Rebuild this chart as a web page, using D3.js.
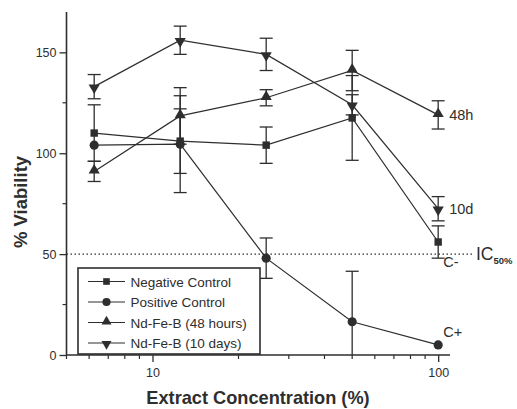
<!DOCTYPE html>
<html>
<head>
<meta charset="utf-8">
<script src="https://cdn.jsdelivr.net/npm/d3@7"></script>
<style>
  html, body { margin: 0; padding: 0; background: #fff; }
  svg { display: block; font-family: "Liberation Sans", Arial, sans-serif; }
</style>
</head>
<body>
<svg id="chart" width="517" height="409"></svg>
<script>
// ---- data ----
const concentrations = [6.25, 12.5, 25, 50, 100];
const seriesNames = ["Negative Control", "Positive Control", "Nd-Fe-B (48 hours)", "Nd-Fe-B (10 days)"];
const negControl    = [110, 106, 104, 117.5, 56];
const negControlErr = [14, 16, 9, 21, 8];
const posControl    = [104, 104.5, 48, 16.5, 5];
const posControlErr = [0, 24, 10, 25, 0];
const nd48h         = [91, 118.5, 127.5, 141, 119];
const nd48hErr      = [5, 14, 4, 10, 7];
const nd10d         = [133, 156, 149, 124, 72.5];
const nd10dErr      = [6, 7, 8, 5, 6];
const yTicks = [0, 50, 100, 150];
const yMinorTicks = [25, 75, 125];
const xTicks = [10, 100];
const xMinorTicks = [5, 6, 7, 8, 9, 20, 30, 40, 50, 60, 70, 80, 90];
const icThreshold = 50;
const endLabels = ["48h", "10d", "C-", "C+"];

const series = [
  { name: seriesNames[0], values: negControl, err: negControlErr, shape: d3.symbolSquare, size: 55, rot: 0 },
  { name: seriesNames[1], values: posControl, err: posControlErr, shape: d3.symbolCircle, size: 66, rot: 0 },
  { name: seriesNames[2], values: nd48h, err: nd48hErr, shape: d3.symbolTriangle, size: 54, rot: 0 },
  { name: seriesNames[3], values: nd10d, err: nd10dErr, shape: d3.symbolTriangle, size: 54, rot: 180 }
];

const ink = "#2e2e2e";
const svg = d3.select("#chart");

const x = d3.scaleLog().domain([5, 110]).range([66.5, 450]);
const y = d3.scaleLinear().domain([0, 170]).range([355, 12]);

// dotted IC50 line
svg.append("line")
  .attr("x1", x(5)).attr("x2", 473)
  .attr("y1", y(icThreshold)).attr("y2", y(icThreshold))
  .attr("stroke", ink).attr("stroke-width", 1.1)
  .attr("stroke-dasharray", "1.5,2.5");

// axes
const yAxis = d3.axisLeft(y).tickValues(yTicks).tickSize(7).tickPadding(3).tickFormat(d3.format("d"));
const gy = svg.append("g").attr("transform", `translate(${x(5)},0)`).call(yAxis);
gy.append("g").selectAll("line").data(yMinorTicks).join("line")
  .attr("x1", -4).attr("x2", 0).attr("y1", d => y(d)).attr("y2", d => y(d))
  .attr("stroke", ink).attr("stroke-width", 1.2);

const xAxis = d3.axisBottom(x).tickValues(xTicks).tickSize(7).tickPadding(6).tickFormat(d3.format("d"));
const gx = svg.append("g").attr("transform", `translate(0,${y(0)})`).call(xAxis);
gx.append("g").selectAll("line").data(xMinorTicks).join("line")
  .attr("x1", d => x(d)).attr("x2", d => x(d)).attr("y1", 0).attr("y2", 4)
  .attr("stroke", ink).attr("stroke-width", 1.2);

[gx, gy].forEach(g => {
  g.select(".domain").attr("stroke", ink).attr("stroke-width", 1.6);
  g.selectAll(".tick line").attr("stroke", ink).attr("stroke-width", 1.3);
  g.selectAll("text").attr("fill", ink).attr("font-size", 12.5)
    .attr("font-family", "'Liberation Sans', Arial, sans-serif");
});
gy.select(".domain").attr("d", `M0,${y(170)}V${y(0)}`);
gx.select(".domain").attr("d", `M${x(5)},0H${x(110)}`);

// error bars
const capW = 6.5;
series.forEach(s => {
  const g = svg.append("g");
  s.values.forEach((v, i) => {
    const e = s.err[i];
    if (!e) return;
    const cx = x(concentrations[i]);
    const hi = v + e, lo = Math.max(0, v - e);
    g.append("line").attr("x1", cx).attr("x2", cx).attr("y1", y(hi)).attr("y2", y(lo))
      .attr("stroke", ink).attr("stroke-width", 1.3);
    g.append("line").attr("x1", cx - capW).attr("x2", cx + capW).attr("y1", y(hi)).attr("y2", y(hi))
      .attr("stroke", ink).attr("stroke-width", 1.3);
    if (v - e >= 0)
      g.append("line").attr("x1", cx - capW).attr("x2", cx + capW).attr("y1", y(lo)).attr("y2", y(lo))
        .attr("stroke", ink).attr("stroke-width", 1.3);
  });
});

// lines
const lineGen = d3.line().x((d, i) => x(concentrations[i])).y(d => y(d));
series.forEach(s => {
  svg.append("path").attr("d", lineGen(s.values))
    .attr("fill", "none").attr("stroke", ink).attr("stroke-width", 1.2);
});

// markers
series.forEach(s => {
  svg.append("g").selectAll("path").data(s.values).join("path")
    .attr("d", d3.symbol().type(s.shape).size(s.size))
    .attr("transform", (d, i) => `translate(${x(concentrations[i])},${y(d) + (s.shape === d3.symbolTriangle ? (s.rot ? 1 : -1) : 0)}) rotate(${s.rot})`)
    .attr("fill", ink);
});

// end labels
const lastIdx = concentrations.length - 1;
const labelFont = "'Liberation Sans', Arial, sans-serif";
const endPos = [
  { t: endLabels[0], v: nd48h[lastIdx], dx: 11, dy: 5 },
  { t: endLabels[1], v: nd10d[lastIdx], dx: 11, dy: 5 },
  { t: endLabels[2], v: negControl[lastIdx], dx: 5, dy: 25 },
  { t: endLabels[3], v: posControl[lastIdx], dx: 5, dy: -8 }
];
endPos.forEach(p => {
  svg.append("text").attr("x", x(concentrations[lastIdx]) + p.dx).attr("y", y(p.v) + p.dy)
    .attr("font-size", 14.5).attr("fill", ink).attr("font-family", labelFont).text(p.t);
});

// IC50 label
const ic = svg.append("text").attr("x", 476).attr("y", y(icThreshold) + 6)
  .attr("font-family", labelFont).attr("fill", ink);
ic.append("tspan").attr("font-size", 17.5).text("IC");
ic.append("tspan").attr("font-size", 9.5).attr("font-weight", "bold").attr("dy", 4).text("50%");

// legend
const lg = svg.append("g");
lg.append("rect").attr("x", 78).attr("y", 268).attr("width", 182).attr("height", 86)
  .attr("fill", "#fff").attr("stroke", ink).attr("stroke-width", 1.6);
series.forEach((s, i) => {
  const ry = 281.5 + i * 20.5;
  lg.append("line").attr("x1", 88).attr("x2", 125).attr("y1", ry).attr("y2", ry)
    .attr("stroke", ink).attr("stroke-width", 1.2);
  lg.append("path").attr("d", d3.symbol().type(s.shape).size(s.size * 0.8))
    .attr("transform", `translate(106.5,${ry + (s.shape === d3.symbolTriangle ? (s.rot ? 1 : -1) : 0)}) rotate(${s.rot})`)
    .attr("fill", ink);
  lg.append("text").attr("x", 130.5).attr("y", ry + 5).attr("font-size", 13.5)
    .attr("font-family", labelFont).attr("fill", ink).text(s.name);
});

// axis titles
svg.append("text").attr("x", 258).attr("y", 404).attr("text-anchor", "middle")
  .attr("font-size", 18.2).attr("font-weight", "bold").attr("font-family", labelFont)
  .attr("fill", ink).text("Extract Concentration (%)");
svg.append("text").attr("transform", "translate(27,202) rotate(-90)").attr("text-anchor", "middle")
  .attr("font-size", 18.5).attr("font-weight", "bold").attr("font-family", labelFont)
  .attr("fill", ink).text("% Viability");
</script>
</body>
</html>
